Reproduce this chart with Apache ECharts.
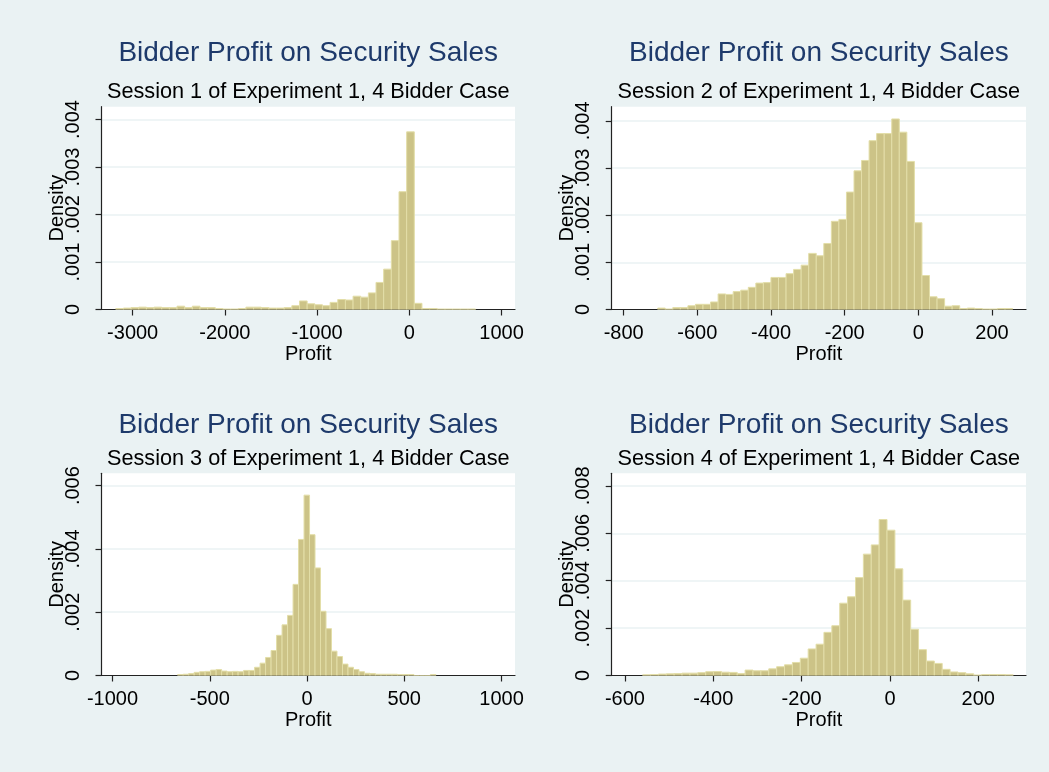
<!DOCTYPE html>
<html>
<head>
<meta charset="utf-8">
<script src="https://cdn.jsdelivr.net/npm/echarts@6/dist/echarts.min.js"></script>
<style>
html,body{margin:0;padding:0;background:#EAF2F3;}
#chart{width:1049px;height:772px;}
</style>
</head>
<body>
<div id="chart"></div>
<script>
// ---------- data ----------
const mainTitle = "Bidder Profit on Security Sales";
const subTitles = [
  "Session 1 of Experiment 1, 4 Bidder Case",
  "Session 2 of Experiment 1, 4 Bidder Case",
  "Session 3 of Experiment 1, 4 Bidder Case",
  "Session 4 of Experiment 1, 4 Bidder Case"
];
// histogram bins: first edge and bin width per session
const binStart = [-3183, -707.6, -665, -560];
const binWidth = [83, 20.5, 28.25, 17.85];

const density1 = [0.00002,0.00003,0.00004,0.00005,0.00004,0.00005,0.00004,0.00004,0.00007,0.00004,
  0.00007,0.00004,0.00004,0.00002,0.00001,0.00001,0.00002,0.00005,0.00005,0.00004,
  0.00003,0.00003,0.00004,0.00008,0.00018,0.00012,0.00010,0.00008,0.00015,0.00021,
  0.00020,0.00028,0.00026,0.00035,0.00057,0.00085,0.00145,0.00248,0.00374,0.00013,
  0.00002,0.00002,0.00001,0.00001,0.00001,0.00001,0.00001];
const density2 = [0.00003,0.00001,0.00004,0.00004,0.00008,0.00011,0.00011,0.00016,0.00033,0.00032,
  0.00038,0.00041,0.00047,0.00056,0.00057,0.00068,0.00068,0.00076,0.00085,0.00094,
  0.00119,0.00114,0.00140,0.00187,0.00191,0.00249,0.00294,0.00316,0.00358,0.00373,
  0.00373,0.00404,0.00376,0.00314,0.00184,0.00072,0.00027,0.00023,0.00007,0.00008,
  0.00002,0.00003,0.00002,0.00001,0.00001,0.00002,0.00002];
const density3 = [0.00003,0.00004,0.00006,0.00010,0.00012,0.00013,0.00017,0.00019,0.00014,0.00012,
  0.00013,0.00012,0.00016,0.00016,0.00026,0.00039,0.00057,0.00079,0.00127,0.00160,
  0.00190,0.00288,0.00430,0.00570,0.00445,0.00340,0.00203,0.00148,0.00077,0.00060,
  0.00036,0.00026,0.00019,0.00012,0.00007,0.00006,0.00004,0.00004,0.00004,0.00004,
  0.00003,0.00003,0.00003,0,0,0,0.00003];
const density4 = [0.00003,0.00004,0.00006,0.00007,0.00008,0.00010,0.00010,0.00012,0.00016,0.00017,
  0.00014,0.00013,0.00008,0.00023,0.00020,0.00020,0.00028,0.00037,0.00045,0.00055,
  0.00073,0.00112,0.00132,0.00182,0.00210,0.00305,0.00332,0.00413,0.00512,0.00551,
  0.00658,0.00613,0.00450,0.00318,0.00195,0.00109,0.00061,0.00051,0.00026,0.00015,
  0.00012,0.00007,0.00002,0.00004,0.00004,0.00004,0.00003];
const densities = [density1, density2, density3, density4];

const xTicks = [
  [-3000, -2000, -1000, 0, 1000],
  [-800, -600, -400, -200, 0, 200],
  [-1000, -500, 0, 500, 1000],
  [-600, -400, -200, 0, 200]
];
const yTicks = [
  [0, 0.001, 0.002, 0.003, 0.004],
  [0, 0.001, 0.002, 0.003, 0.004],
  [0, 0.002, 0.004, 0.006],
  [0, 0.002, 0.004, 0.006, 0.008]
];
const xRange = [[-3338, 1146], [-832.5, 292.4], [-1056.6, 1069.4], [-630, 308]];
const yMax = [0.00427, 0.0043, 0.00639, 0.00853];

// ---------- layout ----------
const gridBoxes = [
  {left: 101.5, top: 106.7, width: 413.5, height: 202.8},
  {left: 611.7, top: 106.7, width: 414.3, height: 202.8},
  {left: 101.5, top: 473.3, width: 413.5, height: 202.2},
  {left: 611.7, top: 473.3, width: 414.3, height: 202.2}
];
const titleOffset = [53, 53, 48, 48];
const subOffset = [14.7, 14.7, 14.3, 14.3];
const FONT = "'Liberation Sans', Arial, sans-serif";
const AXIS_COLOR = '#222';

function fmtY(v) {
  if (v === 0) return '0';
  return v.toFixed(3).replace(/^0/, '');
}
function fmtX(v) {
  return String(Math.round(v));
}

function renderItem(params, api) {
  const x0 = api.value(0), x1 = api.value(1), y = api.value(2);
  const p0 = api.coord([x0, 0]);
  const p1 = api.coord([x1, y]);
  return {
    type: 'rect',
    shape: {x: p0[0], y: p1[1], width: p1[0] - p0[0], height: p0[1] - p1[1]},
    style: {fill: '#CCC387', stroke: '#E3DEA8', lineWidth: 1}
  };
}

const grids = [], xAxes = [], yAxes = [], series = [], graphics = [];
for (let i = 0; i < 4; i++) {
  const g = gridBoxes[i];
  grids.push(Object.assign({containLabel: false, backgroundColor: '#fff', show: true, borderWidth: 0}, g));
  xAxes.push({
    type: 'value', gridIndex: i, min: xRange[i][0], max: xRange[i][1], position: 'bottom',
    name: 'Profit', nameLocation: 'middle', nameGap: 34.5, nameMoveOverlap: false,
    nameTextStyle: {fontFamily: FONT, fontSize: 20, color: '#000'},
    axisLine: {show: true, onZero: false, lineStyle: {color: AXIS_COLOR, width: 1.2}},
    axisTick: {show: true, length: 6, lineStyle: {color: AXIS_COLOR, width: 1.2}, customValues: xTicks[i]},
    axisLabel: {fontFamily: FONT, fontSize: 20, color: '#000', margin: 14, customValues: xTicks[i],
      formatter: fmtX},
    splitLine: {show: false}
  });
  yAxes.push({
    type: 'value', gridIndex: i, min: 0, max: yMax[i], position: 'left',
    name: 'Density', nameLocation: 'middle', nameGap: 34, nameRotate: 90, nameMoveOverlap: false,
    nameTextStyle: {fontFamily: FONT, fontSize: 20, color: '#000'},
    axisLine: {show: true, onZero: false, lineStyle: {color: AXIS_COLOR, width: 1.2}},
    axisTick: {show: true, length: 6, lineStyle: {color: AXIS_COLOR, width: 1.2}, customValues: yTicks[i]},
    axisLabel: {fontFamily: FONT, fontSize: 20, color: '#000', margin: 18, rotate: 90,
      customValues: yTicks[i], formatter: fmtY},
    splitLine: {show: true, lineStyle: {color: '#EAF2F3', width: 1.5}}
  });
  const data = densities[i].map((h, k) => [binStart[i] + k * binWidth[i], binStart[i] + (k + 1) * binWidth[i], h]);
  series.push({
    type: 'custom', xAxisIndex: i, yAxisIndex: i, renderItem: renderItem,
    encode: {x: [0, 1], y: 2}, data: data, clip: true, silent: true
  });
  const cx = g.left + g.width / 2;
  graphics.push({
    type: 'text', x: cx, y: g.top - titleOffset[i],
    style: {text: mainTitle, fontFamily: FONT, fontSize: 28, fill: '#1E3A6B', align: 'center', verticalAlign: 'middle'}
  });
  graphics.push({
    type: 'text', x: cx, y: g.top - subOffset[i],
    style: {text: subTitles[i], fontFamily: FONT, fontSize: 21.7, fill: '#000', align: 'center', verticalAlign: 'middle'}
  });
}

const chart = echarts.init(document.getElementById('chart'), null, {renderer: 'canvas', width: 1049, height: 772});
chart.setOption({
  backgroundColor: '#EAF2F3',
  animation: false,
  grid: grids,
  xAxis: xAxes,
  yAxis: yAxes,
  series: series,
  graphic: graphics
});
</script>
</body>
</html>
